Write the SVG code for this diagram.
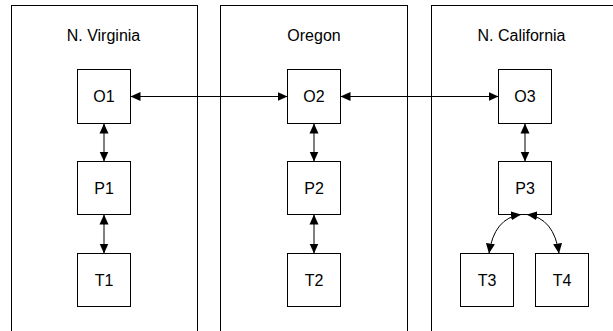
<svg xmlns="http://www.w3.org/2000/svg" width="613" height="331" viewBox="0 0 613 331">
<style>
.panel{fill:#fff;stroke:#000;stroke-width:1}
.node{fill:#fff;stroke:#000;stroke-width:1}
.lbl{font-family:"Liberation Sans",Arial,sans-serif;font-size:16px;fill:#000;text-anchor:middle}
.conn{fill:none;stroke:#000;stroke-width:1;marker-start:url(#ah);marker-end:url(#ah)}
</style>
<defs>
<marker id="ah" viewBox="0 0 10 10" refX="10" refY="5" markerWidth="10" markerHeight="10" markerUnits="userSpaceOnUse" orient="auto-start-reverse">
<path d="M0,0.5 L10,5 L0,9.5 Z" fill="#000"/>
</marker>
</defs>
<rect width="613" height="331" fill="#fff"/>
<g id="panel-virginia"><rect class="panel" x="11.5" y="5.5" width="186" height="340"/><text class="lbl" x="103.5" y="41">N. Virginia</text></g>
<g id="panel-oregon"><rect class="panel" x="220.5" y="5.5" width="187" height="340"/><text class="lbl" x="314" y="41">Oregon</text></g>
<g id="panel-california"><rect class="panel" x="431.5" y="5.5" width="200" height="340"/><text class="lbl" x="521.5" y="41">N. California</text></g>
<g id="O1"><rect class="node" x="77.5" y="69.5" width="53" height="54"/><text class="lbl" x="104" y="102">O1</text></g>
<g id="P1"><rect class="node" x="77.5" y="161.5" width="53" height="53"/><text class="lbl" x="104" y="193.5">P1</text></g>
<g id="T1"><rect class="node" x="77.5" y="253.5" width="53" height="53"/><text class="lbl" x="104" y="285.5">T1</text></g>
<g id="O2"><rect class="node" x="287.5" y="69.5" width="53" height="54"/><text class="lbl" x="314" y="102">O2</text></g>
<g id="P2"><rect class="node" x="287.5" y="161.5" width="53" height="53"/><text class="lbl" x="314" y="193.5">P2</text></g>
<g id="T2"><rect class="node" x="287.5" y="253.5" width="53" height="53"/><text class="lbl" x="314" y="285.5">T2</text></g>
<g id="O3"><rect class="node" x="498.5" y="69.5" width="53" height="54"/><text class="lbl" x="525" y="102">O3</text></g>
<g id="P3"><rect class="node" x="498.5" y="161.5" width="53" height="53"/><text class="lbl" x="525" y="193.5">P3</text></g>
<g id="T3"><rect class="node" x="460.5" y="253.5" width="53" height="53"/><text class="lbl" x="487" y="285.5">T3</text></g>
<g id="T4"><rect class="node" x="535.5" y="253.5" width="53" height="53"/><text class="lbl" x="562" y="285.5">T4</text></g>
<g id="connectors">
<path class="conn" d="M130.5,96.5 L287.5,96.5"/>
<path class="conn" d="M340.5,96.5 L498.5,96.5"/>
<path class="conn" d="M104,123.5 L104,161.5"/>
<path class="conn" d="M104,214.5 L104,253.5"/>
<path class="conn" d="M314,123.5 L314,161.5"/>
<path class="conn" d="M314,214.5 L314,253.5"/>
<path class="conn" d="M525,123.5 L525,161.5"/>
<path class="conn" d="M521,214.5 Q494,218 489,253.5"/>
<path class="conn" d="M527,214.5 Q554,218 559,253.5"/>
</g>
</svg>
